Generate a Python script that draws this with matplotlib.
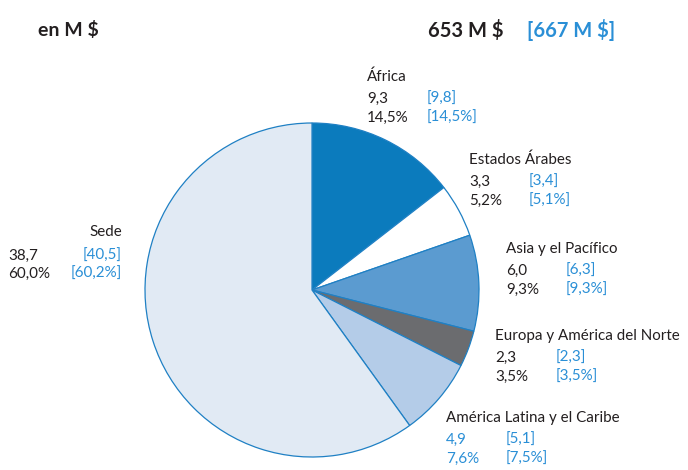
import matplotlib.pyplot as plt

plt.rcParams['font.family'] = ['Lato', 'DejaVu Sans']

# data
regions = ["África", "Estados Árabes", "Asia y el Pacífico",
           "Europa y América del Norte", "América Latina y el Caribe", "Sede"]
shares = [14.5, 5.2, 9.3, 3.5, 7.6, 60.0]
values = ["9,3", "3,3", "6,0", "2,3", "4,9", "38,7"]
shares_txt = ["14,5%", "5,2%", "9,3%", "3,5%", "7,6%", "60,0%"]
prev_values = ["[9,8]", "[3,4]", "[6,3]", "[2,3]", "[5,1]", "[40,5]"]
prev_shares = ["[14,5%]", "[5,1%]", "[9,3%]", "[3,5%]", "[7,5%]", "[60,2%]"]
colors = ["#0b7bbd", "#ffffff", "#5b9bd0", "#6b6c6f", "#b4cce8", "#e1eaf4"]

BLACK = "#231f20"
BLUE = "#2a8fd6"
EDGE = "#1f80c4"

fig = plt.figure(figsize=(6.88, 4.70), dpi=100)
ax = fig.add_axes([0, 0, 1, 1])

H = 470
ax.pie(shares, colors=colors, startangle=90, counterclock=False,
       center=(312, H - 290), radius=167,
       wedgeprops=dict(edgecolor=EDGE, linewidth=0.9))
ax.set_xlim(0, 688)
ax.set_ylim(0, H)
ax.set_aspect('equal')
ax.axis('off')

# header
ax.text(38, H - 30, "en M $", fontsize=14, fontweight='bold', color=BLACK, va='center')
ax.text(428, H - 30, "653 M $", fontsize=14.5, fontweight='bold', color=BLACK, va='center')
ax.text(527, H - 30, "[667 M $]", fontsize=14.5, fontweight='bold', color=BLUE, va='center')

# label anchors: (x name, y name, x bracket column)
label_pos = [(367, 77, 427), (469, 160, 529), (506, 249, 566),
             (495, 336, 556), (446, 418, 506)]
fs = 10.9
for i, (x, y, xb) in enumerate(label_pos):
    ax.text(x, H - y, regions[i], fontsize=fs, color=BLACK, va='center')
    first_col = BLUE if i == 4 else BLACK
    ax.text(x, H - y - 22, values[i], fontsize=fs, color=first_col, va='center')
    ax.text(x, H - y - 41, shares_txt[i], fontsize=fs, color=first_col, va='center')
    ax.text(xb, H - y - 22, prev_values[i], fontsize=fs, color=BLUE, va='center')
    ax.text(xb, H - y - 41, prev_shares[i], fontsize=fs, color=BLUE, va='center')

# Sede (left side, right aligned brackets)
ax.text(122, H - 232, regions[5], fontsize=fs, color=BLACK, va='center', ha='right')
ax.text(8, H - 256, values[5], fontsize=fs, color=BLACK, va='center')
ax.text(8, H - 274, shares_txt[5], fontsize=fs, color=BLACK, va='center')
ax.text(122, H - 256, prev_values[5], fontsize=fs, color=BLUE, va='center', ha='right')
ax.text(122, H - 274, prev_shares[5], fontsize=fs, color=BLUE, va='center', ha='right')

fig.savefig("out.png", dpi=100)
